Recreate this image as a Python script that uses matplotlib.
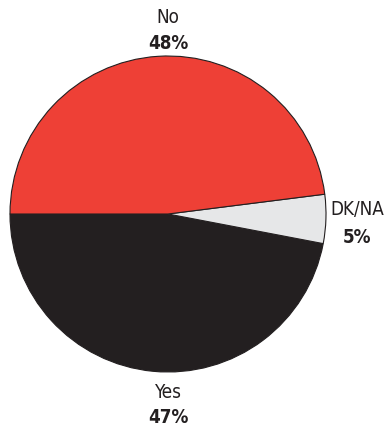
import matplotlib.pyplot as plt

labels = ["Yes", "DK/NA", "No"]
values = [47, 5, 48]
colors = ["#231f20", "#e6e7e8", "#ee4036"]

W, H = 385, 427
cx, cy, r = 168, 215, 158

fig = plt.figure(figsize=(W / 100, H / 100), dpi=100)
ax = fig.add_axes([(cx - r) / W, (H - cy - r) / H, 2 * r / W, 2 * r / H])
ax.pie(values, colors=colors, startangle=180, counterclock=True,
       wedgeprops=dict(edgecolor="#231f20", linewidth=0.8))
ax.set_xlim(-1, 1)
ax.set_ylim(-1, 1)
ax.set_aspect("equal")
ax.axis("off")


def px(x, y):
    return ((x - cx) / r, (cy - y) / r)


# label positions in pixels (x, name y, pct y)
label_pos = {"No": (168, 18, 44), "DK/NA": (357, 210, 238), "Yes": (168, 393, 418)}
for lab, val in zip(labels, values):
    x, y1, y2 = label_pos[lab]
    ax.text(*px(x, y1), lab, ha="center", va="center", fontsize=13.5,
            family="DejaVu Sans", fontstretch="condensed", color="#231f20",
            clip_on=False)
    ax.text(*px(x, y2), f"{val}%", ha="center", va="center", fontsize=13.5,
            family="DejaVu Sans", fontstretch="condensed", fontweight="bold",
            color="#231f20", clip_on=False)

fig.savefig("out.png", dpi=100)
